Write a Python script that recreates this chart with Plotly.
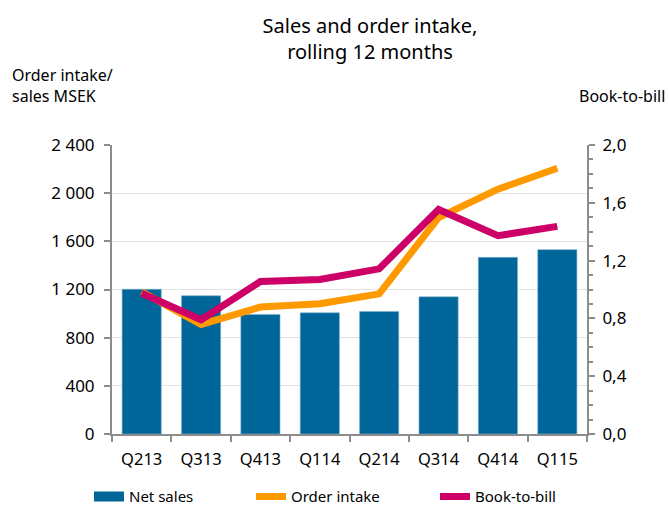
import plotly.graph_objects as go

quarters = ["Q213", "Q313", "Q413", "Q114", "Q214", "Q314", "Q414", "Q115"]
net_sales = [1202, 1148, 993, 1007, 1018, 1139, 1467, 1531]
order_intake = [1181, 910, 1054, 1082, 1164, 1798, 2033, 2207]
book_to_bill = [0.974, 0.791, 1.055, 1.069, 1.143, 1.554, 1.372, 1.437]
left_ticks = [0, 400, 800, 1200, 1600, 2000, 2400]
right_ticks = [0.0, 0.4, 0.8, 1.2, 1.6, 2.0]

BLUE = "#006699"
ORANGE = "#FF9900"
MAGENTA = "#CC0066"
FONT = "Noto Sans"
AXC = "#8c8c8c"

fig = go.Figure()
fig.add_trace(go.Bar(x=quarters, y=net_sales, name="Net sales",
                     marker=dict(color=BLUE, line=dict(color="#7fb0cc", width=0.6)),
                     showlegend=False, yaxis="y"))
fig.add_trace(go.Scatter(x=quarters, y=order_intake, name="Order intake", mode="lines",
                         line=dict(color=ORANGE, width=7), yaxis="y", legend="legend2"))
fig.add_trace(go.Scatter(x=quarters, y=book_to_bill, name="Book-to-bill", mode="lines",
                         line=dict(color=MAGENTA, width=7), yaxis="y2", legend="legend3"))
# legend-only entry for bars (rectangular key like the original)
fig.add_trace(go.Scatter(x=[None], y=[None], name="Net sales", mode="lines",
                         line=dict(color=BLUE, width=10), legend="legend"))

legend_common = dict(orientation="h", yanchor="middle", xanchor="left", bgcolor="rgba(0,0,0,0)",
                     font=dict(family=FONT, size=15, color="#000"))

fig.update_layout(
    width=669, height=507,
    margin=dict(l=112, r=82, t=145, b=73, autoexpand=False),
    plot_bgcolor="white", paper_bgcolor="white",
    separators=", ",
    font=dict(family=FONT, size=15, color="#000"),
    bargap=0.34,
    title=dict(text="Sales and order intake,<br>rolling 12 months", x=370/669, xanchor="center",
               y=1 - 33/507, yanchor="middle", font=dict(family=FONT, size=20, color="#000")),
    xaxis=dict(type="category", showline=True, linecolor=AXC, linewidth=2, ticks="outside",
               tickson="boundaries", ticklen=6, tickcolor=AXC, tickwidth=2, showgrid=False,
               tickfont=dict(size=16.5), mirror=False, ticklabelstandoff=9),
    yaxis=dict(range=[0, 2400], tickvals=left_ticks, separatethousands=True, tickformat=",d",
               showline=True, linecolor=AXC, linewidth=2, ticks="outside", ticklen=6,
               tickcolor=AXC, tickwidth=2, showgrid=True, gridcolor="#e3e3e3", gridwidth=1,
               zeroline=False, tickfont=dict(size=17), ticklabelstandoff=6),
    yaxis2=dict(range=[0, 2.0], tickvals=right_ticks, tickformat=".1f", overlaying="y", side="right",
                showline=True, linecolor=AXC, linewidth=2, ticks="outside", ticklen=6,
                tickcolor=AXC, tickwidth=2, showgrid=False, zeroline=False, tickfont=dict(size=17),
                ticklabelstandoff=4,
                minor=dict(dtick=0.1, ticks="outside", ticklen=4, tickcolor=AXC, tickwidth=1.5)),
    legend=dict(x=(89 - 112) / 475, y=-0.217, **legend_common),
    legend2=dict(x=(251 - 112) / 475, y=-0.217, **legend_common),
    legend3=dict(x=(435 - 112) / 475, y=-0.217, **legend_common),
    annotations=[
        dict(text="Order intake/<br>sales MSEK", xref="paper", yref="paper", x=(10 - 112) / 475,
             y=1 + (145 - 62) / 290, xanchor="left", yanchor="top", align="left", showarrow=False,
             font=dict(family=FONT, size=16, color="#000")),
        dict(text="Book-to-bill", xref="paper", yref="paper", x=(667 - 112) / 475,
             y=1 + (145 - 83) / 290, xanchor="right", yanchor="top", align="right", showarrow=False,
             font=dict(family=FONT, size=16, color="#000")),
    ],
)

fig.write_html("out.html", config={"displayModeBar": False},
               post_script="document.body.style.margin='0';document.body.style.overflow='hidden';")
